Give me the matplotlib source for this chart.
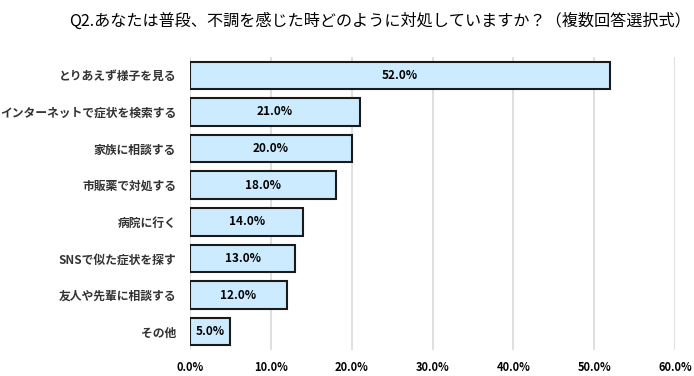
import matplotlib
matplotlib.use('Agg')
import matplotlib.pyplot as plt

plt.rcParams['font.family'] = ['Noto Sans CJK JP', 'DejaVu Sans']

categories = ['とりあえず様子を見る', 'インターネットで症状を検索する', '家族に相談する',
              '市販薬で対処する', '病院に行く', 'SNSで似た症状を探す',
              '友人や先輩に相談する', 'その他']
values = [52.0, 21.0, 20.0, 18.0, 14.0, 13.0, 12.0, 5.0]
ticks = [0, 10, 20, 30, 40, 50, 60]

fig = plt.figure(figsize=(6.94, 3.76), dpi=100)
ax = fig.add_axes([0.2738, 0.0691, 0.6988, 0.7793])

pos = list(range(len(categories)))
bars = ax.barh(pos, values, height=0.75, color='#CCEBFF', edgecolor='#1a1a1a', linewidth=1.5, zorder=3)
for p, v in zip(pos, values):
    ax.text(v / 2, p, f'{v:.1f}%', ha='center', va='center', fontsize=8.5, fontweight='bold', zorder=4)

ax.set_xlim(0, 60)
ax.set_ylim(7.5, -0.5)
ax.set_xticks(ticks)
ax.set_xticklabels([f'{t:.1f}%' for t in ticks], fontsize=8, fontweight='bold')
ax.set_yticks(pos)
ax.set_yticklabels(categories, fontsize=8.5, fontweight='bold', color='#333333')
ax.tick_params(axis='both', length=0)
ax.tick_params(axis='x', pad=8)
ax.tick_params(axis='y', pad=10)
for s in ax.spines.values():
    s.set_visible(False)
ax.grid(axis='x', color='#d9d9d9', linewidth=1.2, zorder=0)

fig.text(0.548, 0.945, 'Q2.あなたは普段、不調を感じた時どのように対処していますか？（複数回答選択式）',
         ha='center', va='center', fontsize=11.6)

fig.savefig('out.png', dpi=100)
